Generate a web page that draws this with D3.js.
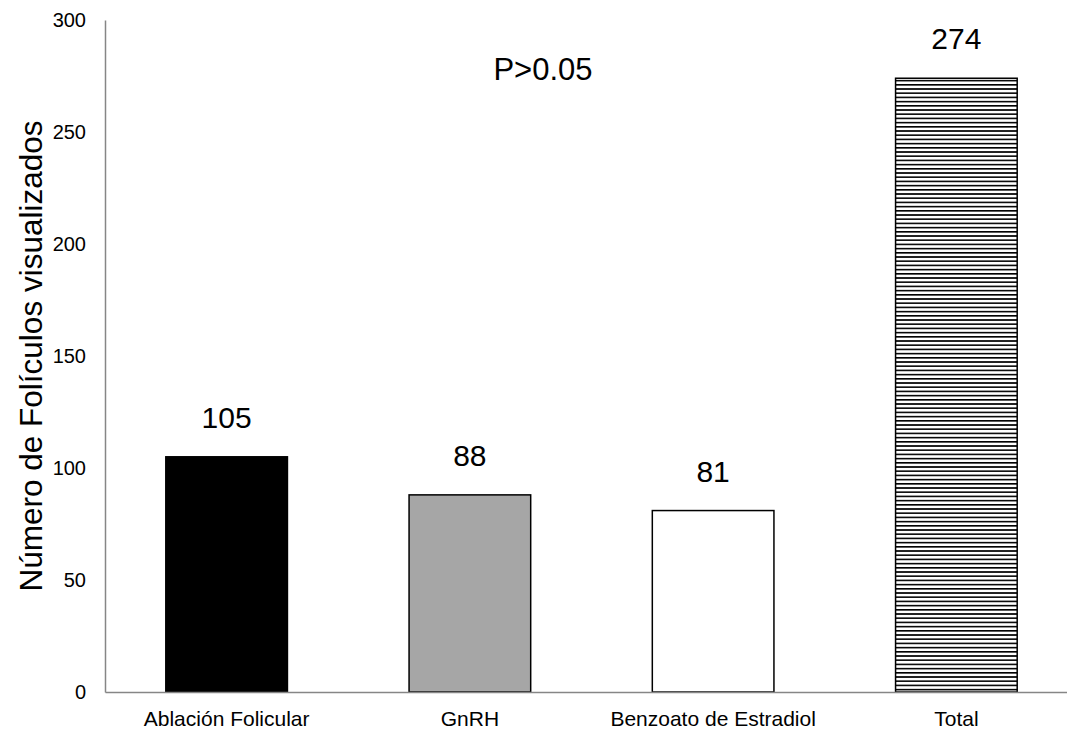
<!DOCTYPE html>
<html>
<head>
<meta charset="utf-8">
<script src="https://cdn.jsdelivr.net/npm/d3@7/dist/d3.min.js"></script>
<style>
  body { margin: 0; background: #fff; }
  svg { display: block; font-family: "Liberation Sans", Arial, sans-serif; }
</style>
</head>
<body>
<svg id="chart" width="1067" height="731"></svg>
<script>
const categories = ["Ablación Folicular", "GnRH", "Benzoato de Estradiol", "Total"];
const values = [105, 88, 81, 274];
const fills = ["#000000", "#a6a6a6", "#ffffff", "url(#hstripes)"];
const yTicks = [0, 50, 100, 150, 200, 250, 300];
const yTitle = "Número de Folículos visualizados";
const note = "P>0.05";

const FONT = "Liberation Sans, Arial, sans-serif";
const svg = d3.select("#chart");

// horizontal hatch for the total bar
const defs = svg.append("defs");
const pat = defs.append("pattern")
  .attr("id", "hstripes")
  .attr("patternUnits", "userSpaceOnUse")
  .attr("width", 8).attr("height", 4.2);
pat.append("rect").attr("width", 8).attr("height", 4.2).attr("fill", "#fff");
pat.append("rect").attr("y", 0).attr("width", 8).attr("height", 1.6).attr("fill", "#000");

const x = d3.scaleBand().domain(categories).range([105, 1078]).paddingInner(0.5).paddingOuter(0.25);
const y = d3.scaleLinear().domain([0, 300]).range([692, 20]);

// bars
svg.selectAll("rect.bar").data(values).join("rect")
  .attr("class", "bar")
  .attr("x", (d, i) => x(categories[i]))
  .attr("width", x.bandwidth())
  .attr("y", d => y(d))
  .attr("height", d => y(0) - y(d))
  .attr("fill", (d, i) => fills[i])
  .attr("stroke", "#000")
  .attr("stroke-width", 1.5);

// value labels
svg.selectAll("text.val").data(values).join("text")
  .attr("class", "val")
  .attr("x", (d, i) => x(categories[i]) + x.bandwidth() / 2)
  .attr("y", d => y(d) - 29)
  .attr("text-anchor", "middle")
  .attr("font-size", 30)
  .attr("fill", "#000")
  .text(d => d);

// y axis
const yAxis = d3.axisLeft(y).tickValues(yTicks).tickSize(0).tickPadding(19);
const gy = svg.append("g").attr("transform", "translate(105,0)").call(yAxis);
gy.attr("font-family", FONT).attr("font-size", 20);
gy.select(".domain").attr("stroke", "#868686").attr("stroke-width", 1.5);
gy.selectAll("text").attr("fill", "#000");

// x axis
const xAxis = d3.axisBottom(x).tickSize(0).tickPadding(19);
const gx = svg.append("g").attr("transform", "translate(0,692)").call(xAxis);
gx.attr("font-family", FONT).attr("font-size", 21);
gx.select(".domain").attr("stroke", "#868686").attr("stroke-width", 1.5);
gx.selectAll("text").attr("fill", "#000");

// y title
svg.append("text")
  .attr("transform", "translate(42,356) rotate(-90)")
  .attr("text-anchor", "middle")
  .attr("font-size", 31.5)
  .attr("fill", "#000")
  .text(yTitle);

// significance note
svg.append("text")
  .attr("x", 543).attr("y", 80)
  .attr("text-anchor", "middle")
  .attr("font-size", 31)
  .attr("fill", "#000")
  .text(note);
</script>
</body>
</html>
